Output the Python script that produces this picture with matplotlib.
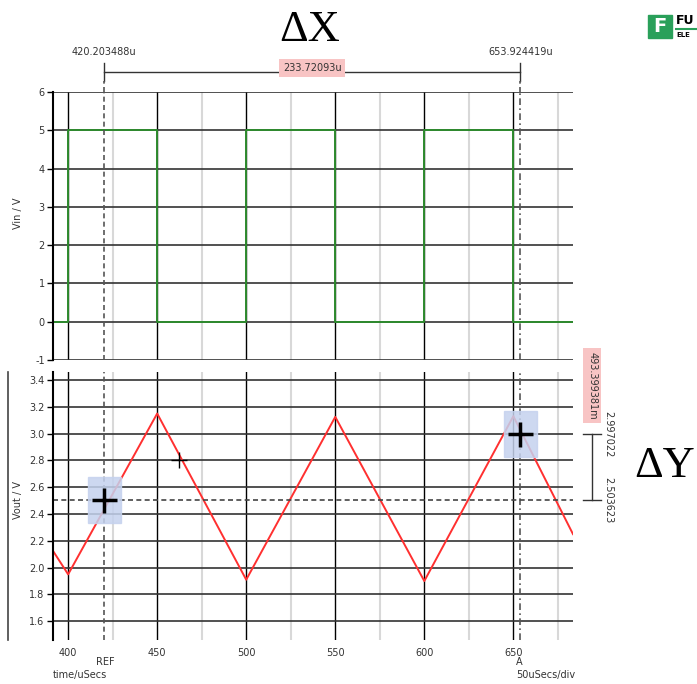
import numpy as np
import matplotlib.pyplot as plt
from matplotlib.patches import Rectangle
from matplotlib.transforms import blended_transform_factory

# dữ liệu
vin_t = [391.5, 400, 450, 500, 550, 600, 650, 683.5]
vin_v = [0, 5, 0, 5, 0, 5, 0, 0]
vout_t = [391.5, 400, 450, 500, 550, 600, 650, 683.5]
vout_v = [2.125, 1.95, 3.15, 1.91, 3.125, 1.90, 3.13, 2.25]
ref_x = 420.203488
a_x = 653.924419
ref_y = 2.503623
a_y = 2.997022
dx_label = "233.72093u"
dy_label = "493.399381m"
probe_t, probe_v = 462.4, 2.80
xticks = [400, 450, 500, 550, 600, 650]
xminor = [425, 475, 525, 575, 625, 675]
vin_ticks = [-1, 0, 1, 2, 3, 4, 5, 6]
vout_ticks = [1.6, 1.8, 2.0, 2.2, 2.4, 2.6, 2.8, 3.0, 3.2, 3.4]

W, H = 697, 684
plt.rcParams['font.family'] = ['DejaVu Sans']
plt.rcParams['axes.unicode_minus'] = False
fig = plt.figure(figsize=(W / 100, H / 100), dpi=100)

def px(x0, y0, x1, y1):
    return [x0 / W, 1 - y1 / H, (x1 - x0) / W, (y1 - y0) / H]

xlim = (391.5, 683.5)
grid_dark = '#333333'
grid_light = '#d8d8d8'
tcol = '#333333'
fs = 7

def style(ax, yt):
    ax.set_xlim(*xlim)
    ax.set_xticks(xticks)
    ax.set_xticks(xminor, minor=True)
    ax.set_yticks(yt)
    for s in ['top', 'right', 'bottom']:
        ax.spines[s].set_visible(False)
    ax.spines['left'].set_color('black')
    ax.spines['left'].set_linewidth(1.5)
    ax.grid(axis='x', which='major', color='black', lw=1.0)
    ax.grid(axis='x', which='minor', color=grid_light, lw=1.5)
    ax.grid(axis='y', which='major', color=grid_dark, lw=1.2)
    ax.set_axisbelow(True)
    ax.tick_params(axis='y', length=4, width=1, colors='black', labelcolor=tcol, labelsize=fs, pad=2)
    ax.tick_params(axis='x', which='both', length=0, labelcolor=tcol, labelsize=fs, pad=6)

# panel trên: Vin
ax1 = fig.add_axes(px(53, 92, 573, 360))
style(ax1, vin_ticks)
ax1.set_ylim(-1, 6)
ax1.plot(vin_t, vin_v, drawstyle='steps-post', color='#2e8b2e', lw=1.4)
ax1.set_xticklabels([])

# panel dưới: Vout
ax2 = fig.add_axes(px(53, 372, 573, 640))
style(ax2, vout_ticks)
ax2.set_ylim(1.46, 3.46)
ax2.set_yticklabels([f"{v:.1f}" for v in vout_ticks])
ax2.plot(vout_t, vout_v, color='#ff3030', lw=1.4)

fig.text(18 / W, 1 - 213 / H, "Vin / V", rotation=90, ha='center', va='center', fontsize=fs, color=tcol)
fig.text(18 / W, 1 - 500 / H, "Vout / V", rotation=90, ha='center', va='center', fontsize=fs, color=tcol)

# con trỏ
for ax in (ax1, ax2):
    ax.axvline(ref_x, color='#555555', lw=1.2, ls=(0, (3, 2)))
    ax.axvline(a_x, color='#555555', lw=1.2, ls=(0, (4, 2, 1, 2)))
ax2.axhline(ref_y, color='#444444', lw=1.2, ls=(0, (3, 2)), clip_on=False)

ax2.add_patch(Rectangle((ref_x - 9.3, ref_y - 0.17), 18.6, 0.34, color='#c5d2ee', alpha=0.85, zorder=3))
ax2.add_patch(Rectangle((a_x - 9.3, a_y - 0.17), 18.6, 0.34, color='#c5d2ee', alpha=0.85, zorder=3))
ax2.plot([ref_x, a_x], [ref_y, a_y], '+', color='black', ms=18, mew=2.5, zorder=5)
ax2.plot([probe_t], [probe_v], '+', color='black', ms=12, mew=1.0, zorder=5)

# đường ΔX phía trên
tr = blended_transform_factory(ax1.transData, ax1.transAxes)
ax1.plot([ref_x, a_x], [1.075, 1.075], color='#333333', lw=1, transform=tr, clip_on=False)
for xv in (ref_x, a_x):
    ax1.plot([xv, xv], [1.04, 1.11], color='#333333', lw=1, transform=tr, clip_on=False)
    ax1.plot([xv, xv], [1.0, 1.04], color='#555555', lw=1.2, ls=(0, (3, 2)), transform=tr, clip_on=False)
ax1.text(ref_x, 1.13, f"{ref_x:.6f}u", transform=tr, ha='center', va='bottom', fontsize=fs, color=tcol)
ax1.text(a_x, 1.13, f"{a_x:.6f}u", transform=tr, ha='center', va='bottom', fontsize=fs, color=tcol)
ax1.text((ref_x + a_x) / 2, 1.09, dx_label, transform=tr, ha='center', va='center', fontsize=fs,
         color=tcol, bbox=dict(boxstyle='square,pad=0.4', fc='#f8c4c4', ec='none'))

# đường ΔY bên phải
tr2 = blended_transform_factory(ax2.transAxes, ax2.transData)
ax2.plot([1.037, 1.037], [ref_y, a_y], color='#333333', lw=1, transform=tr2, clip_on=False)
for yv in (ref_y, a_y):
    ax2.plot([1.019, 1.054], [yv, yv], color='#333333', lw=1, transform=tr2, clip_on=False)
    ax2.text(1.058, yv, f"{yv:.6f}", transform=tr2, rotation=270, ha='left', va='center',
             fontsize=fs, color=tcol)
ax2.text(1.037, 3.36, dy_label, transform=tr2, rotation=270, ha='center', va='center',
         fontsize=fs, color=tcol, bbox=dict(boxstyle='square,pad=0.4', fc='#f8c4c4', ec='none'))

# chữ phụ
fig.text(105 / W, 1 - 662 / H, "REF", ha='center', va='center', fontsize=fs, color=tcol)
fig.text(53 / W, 1 - 675 / H, "time/uSecs", ha='left', va='center', fontsize=fs, color=tcol)
fig.text(516 / W, 1 - 662 / H, "A", ha='left', va='center', fontsize=fs, color=tcol)
fig.text(516 / W, 1 - 675 / H, "50uSecs/div", ha='left', va='center', fontsize=fs, color=tcol)
fig.add_artist(plt.Line2D([8 / W, 8 / W], [1 - 372 / H, 1 - 640 / H], color='#444444', lw=1.2))

fig.text(310 / W, 1 - 30 / H, "ΔX", ha='center', va='center', fontsize=32, family='Liberation Serif')
fig.text(665 / W, 1 - 466 / H, "ΔY", ha='center', va='center', fontsize=32, family='Liberation Serif')

# logo
fig.add_artist(Rectangle((648 / W, 1 - 38 / H), 24 / W, 23 / H, color='#2aa05a', transform=fig.transFigure))
fig.text(660 / W, 1 - 27 / H, "F", ha='center', va='center', fontsize=14, color='white', weight='bold')
fig.text(676 / W, 1 - 21 / H, "FU", ha='left', va='center', fontsize=9, color='black', weight='bold')
fig.add_artist(plt.Line2D([676 / W, 697 / W], [1 - 29 / H, 1 - 29 / H], color='#2aa05a', lw=1.5))
fig.text(676 / W, 1 - 35 / H, "ELE", ha='left', va='center', fontsize=5, color='black', weight='bold')

fig.savefig("out.png", dpi=100)
